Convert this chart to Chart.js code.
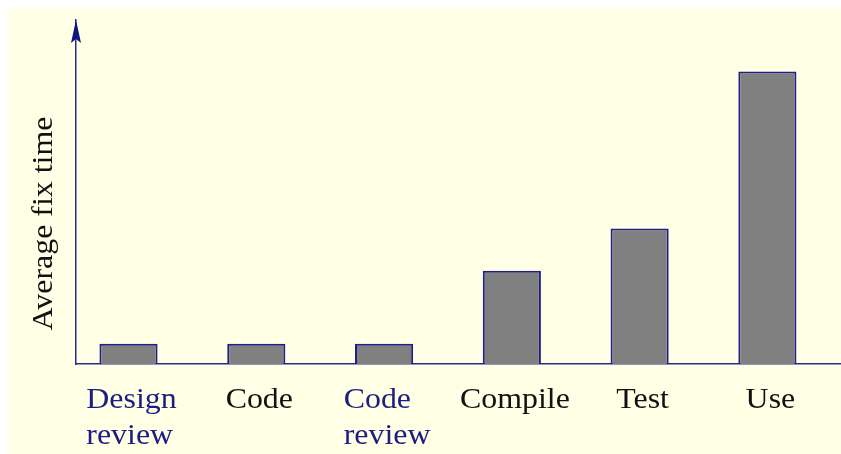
<!DOCTYPE html>
<html><head><meta charset="utf-8">
<script src="https://cdn.jsdelivr.net/npm/chart.js@4/dist/chart.umd.min.js"></script>
<style>html,body{margin:0;padding:0;background:#fff}#wrap{width:841px;height:454px}</style>
</head>
<body><div id="wrap"><canvas id="c" width="841" height="454"></canvas></div>
<script>
const categories = [["Design","review"],["Code"],["Code","review"],["Compile"],["Test"],["Use"]];
const fixTimes = [5.9, 5.9, 5.9, 27.1, 39.4, 85.0];
const labelColors = ["#1c1c84","#111111","#1c1c84","#111111","#111111","#111111"];
const yTitle = "Average fix time";

const NAVY = "#1f1f8a";
const FONT = '29px "Liberation Serif", "Times New Roman", serif';
const STRETCH = 1.1;

const bgPlugin = {
  id: 'bg',
  beforeDraw(chart) {
    const ctx = chart.ctx;
    ctx.save();
    ctx.fillStyle = '#ffffff';
    ctx.fillRect(0, 0, chart.width, chart.height);
    ctx.fillStyle = '#ffffe6';
    ctx.fillRect(8, 9, chart.width - 8, chart.height - 9);
    ctx.restore();
  }
};

const decoPlugin = {
  id: 'deco',
  afterDraw(chart) {
    const ctx = chart.ctx;
    const a = chart.chartArea;
    const xs = chart.scales.x;
    ctx.save();
    const tx = a.left, ty = a.top;
    ctx.fillStyle = '#14147e';
    ctx.beginPath();
    ctx.moveTo(tx, ty);
    ctx.lineTo(tx + 5, ty + 23);
    ctx.lineTo(tx, ty + 19);
    ctx.lineTo(tx - 5, ty + 23);
    ctx.closePath();
    ctx.fill();
    ctx.font = FONT;
    ctx.textBaseline = 'alphabetic';
    ctx.textAlign = 'left';
    categories.forEach((lines, i) => {
      const px = xs.getPixelForValue(i);
      const w = Math.max(...lines.map(l => ctx.measureText(l).width)) * STRETCH;
      const left = px - w / 2 + 3;
      ctx.fillStyle = labelColors[i];
      lines.forEach((l, j) => {
        ctx.save();
        ctx.translate(left, a.bottom + 44 + j * 36);
        ctx.scale(STRETCH, 1);
        ctx.fillText(l, 0, 0);
        ctx.restore();
      });
    });
    ctx.save();
    ctx.fillStyle = '#111111';
    ctx.translate(a.left - 24, a.bottom - 140.5);
    ctx.rotate(-Math.PI / 2);
    ctx.scale(STRETCH, 1);
    ctx.textAlign = 'center';
    ctx.fillText(yTitle, 0, 0);
    ctx.restore();
    ctx.restore();
  }
};

new Chart(document.getElementById('c'), {
  type: 'bar',
  data: {
    datasets: [{
      data: fixTimes.map((v, i) => ({x: i, y: v})),
      backgroundColor: '#808080',
      borderColor: NAVY,
      borderWidth: 2,
      barPercentage: 0.455,
      categoryPercentage: 1.0
    }]
  },
  options: {
    responsive: false,
    animation: false,
    devicePixelRatio: 1,
    layout: { padding: { left: 76, top: 20, right: 0, bottom: 90 } },
    plugins: { legend: { display: false }, tooltip: { enabled: false } },
    scales: {
      x: {
        type: 'linear',
        offset: false,
        min: -0.411, max: 5.576,
        afterBuildTicks: s => { s.ticks = categories.map((_, i) => ({ value: i })); },
        ticks: { display: false },
        grid: { display: false, drawTicks: false, offset: false },
        border: { display: true, color: "#2a2a96", width: 1.5 }
      },
      y: {
        min: 0, max: 100,
        ticks: { display: false },
        grid: { display: false, drawTicks: false },
        border: { display: true, color: "#2a2a96", width: 1.5 }
      }
    }
  },
  plugins: [bgPlugin, decoPlugin]
});
</script>
</body></html>
